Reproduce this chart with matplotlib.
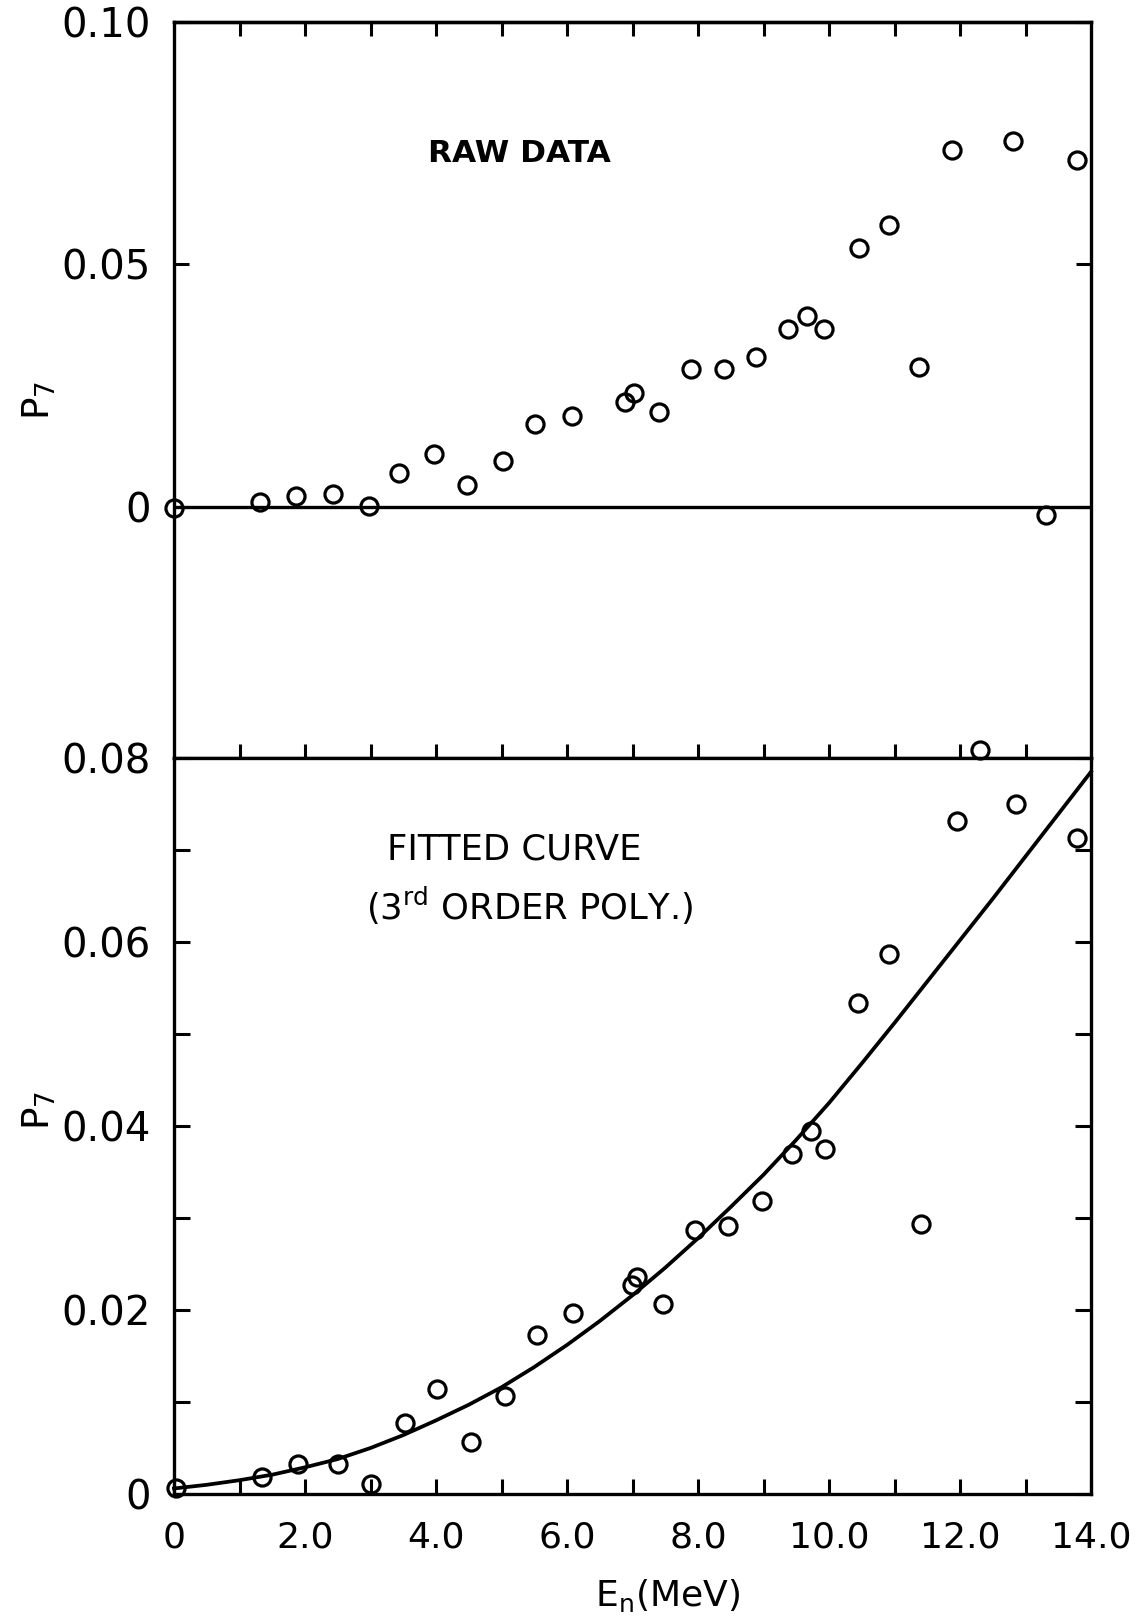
import matplotlib
matplotlib.use("Agg")
import matplotlib.pyplot as plt
from matplotlib.ticker import FixedLocator, FixedFormatter, NullFormatter

plt.rcParams['font.family'] = ['DejaVu Sans']
plt.rcParams['mathtext.default'] = 'regular'
plt.rcParams['mathtext.fontset'] = 'dejavusans'

# ---------------- data ----------------
# Upper panel: raw data
raw_energy = [0.0, 1.31, 1.86, 2.42, 2.97, 3.44, 3.97, 4.48, 5.02, 5.51, 6.08,
              6.89, 7.03, 7.40, 7.89, 8.40, 8.88, 9.38, 9.66, 9.93, 10.46,
              10.91, 11.37, 11.88, 12.81, 13.32, 13.79]
raw_p7 = [-0.0002, 0.0011, 0.0022, 0.0026, 0.0002, 0.0069, 0.0109, 0.0045, 0.0094,
          0.0170, 0.0188, 0.0217, 0.0235, 0.0195, 0.0284, 0.0284, 0.0310, 0.0367,
          0.0393, 0.0367, 0.0534, 0.0582, 0.0289, 0.0736, 0.0754, -0.0016, 0.0716]

# Lower panel: data points with fitted curve
fit_energy = [0.03, 1.34, 1.90, 2.50, 3.01, 3.53, 4.02, 4.53, 5.06, 5.54, 6.09,
              6.99, 7.07, 7.46, 7.95, 8.46, 8.97, 9.44, 9.72, 9.94, 10.45,
              10.91, 11.41, 11.95, 12.30, 12.85, 13.79]
fit_p7 = [0.0007, 0.0018, 0.0033, 0.0033, 0.0011, 0.0077, 0.0114, 0.0057, 0.0107,
          0.0173, 0.0197, 0.0227, 0.0236, 0.0206, 0.0287, 0.0291, 0.0318, 0.0370,
          0.0395, 0.0375, 0.0534, 0.0587, 0.0293, 0.0731, 0.0809, 0.0750, 0.0713]

# Fitted curve (3rd order polynomial), every 0.5 MeV
curve_energy = [0, 0.5, 1, 1.5, 2, 2.5, 3, 3.5, 4, 4.5, 5, 5.5, 6, 6.5, 7, 7.5,
                8, 8.5, 9, 9.5, 10, 10.5, 11, 11.5, 12, 12.5, 13, 13.5, 14]
curve_p7 = [0.0006, 0.0010, 0.0015, 0.0021, 0.0029, 0.0038, 0.0050, 0.0064,
            0.0080, 0.0097, 0.0116, 0.0138, 0.0162, 0.0188, 0.0216, 0.0246,
            0.0278, 0.0312, 0.0347, 0.0385, 0.0425, 0.0468, 0.0512, 0.0557,
            0.0602, 0.0647, 0.0693, 0.0739, 0.0785]

x_major = [0, 2, 4, 6, 8, 10, 12, 14]
x_major_labels = ['0', '2.0', '4.0', '6.0', '8.0', '10.0', '12.0', '14.0']
x_minor = [1, 3, 5, 7, 9, 11, 13]
x_all_inner = [1, 2, 3, 4, 5, 6, 7, 8, 9, 10, 11, 12, 13]

top_yticks = [0, 0.05, 0.10]
top_ylabels = ['0', '0.05', '0.10']
bot_yticks = [0, 0.02, 0.04, 0.06, 0.08]
bot_ylabels = ['0', '0.02', '0.04', '0.06', '0.08']
bot_yminor = [0.01, 0.03, 0.05, 0.07]

# ---------------- figure ----------------
W, H = 1148, 1618
fig = plt.figure(figsize=(W / 100, H / 100), dpi=100)
fig.patch.set_facecolor('white')

L = 174 / W
R = 1091 / W
AXW = 1091 - 174
ax1 = fig.add_axes([L, 1 - 758 / H, R - L, (758 - 22) / H])
ax2 = fig.add_axes([L, 1 - 1494 / H, R - L, (1494 - 758) / H])

INK = '#000000'
SPW = 2.4
marker_kw = dict(linestyle='none', marker='o', ms=12.3, mfc='none', mec=INK,
                 mew=2.3, clip_on=False, zorder=3)

# ---- upper panel ----
ax1.set_xlim(0, 14)
ax1.set_ylim(-0.0518, 0.10)
ax1.axhline(0, color=INK, lw=SPW, zorder=1)
ax1.plot(raw_energy, raw_p7, **marker_kw)
for s in ax1.spines.values():
    s.set_linewidth(SPW)
    s.set_color(INK)

ax1.xaxis.set_major_locator(FixedLocator(x_all_inner))
ax1.xaxis.set_major_formatter(NullFormatter())
ax1.tick_params(axis='x', which='both', bottom=True, top=False, direction='inout',
                length=20, width=2.2, color=INK, labelbottom=False)
sec = ax1.secondary_xaxis('top')
sec.xaxis.set_major_locator(FixedLocator(x_all_inner))
sec.xaxis.set_major_formatter(NullFormatter())
sec.tick_params(axis='x', direction='in', length=10, width=2.2, color=INK)
sec.spines['top'].set_linewidth(SPW)

ax1.yaxis.set_major_locator(FixedLocator(top_yticks))
ax1.yaxis.set_major_formatter(FixedFormatter(top_ylabels))
ax1.tick_params(axis='y', which='both', left=True, right=True, direction='in',
                length=11, width=2.2, color=INK, labelsize=29, pad=17)

ax1.text((519 - 174) / AXW, 1 - (153 - 22) / (758 - 22), 'RAW DATA',
         transform=ax1.transAxes, ha='center', va='center', fontsize=22.5,
         fontweight='bold', color=INK)

# ---- lower panel ----
ax2.set_xlim(0, 14)
ax2.set_ylim(0, 0.08)
ax2.plot(curve_energy, curve_p7, color=INK, lw=2.7, zorder=2, clip_on=False)
ax2.plot(fit_energy, fit_p7, **marker_kw)
for s in ax2.spines.values():
    s.set_linewidth(SPW)
    s.set_color(INK)

ax2.xaxis.set_major_locator(FixedLocator(x_major))
ax2.xaxis.set_major_formatter(FixedFormatter(x_major_labels))
ax2.xaxis.set_minor_locator(FixedLocator(x_minor))
ax2.tick_params(axis='x', which='both', bottom=True, top=False, direction='in',
                length=11, width=2.2, color=INK)
ax2.tick_params(axis='x', which='major', labelsize=26, pad=19)

ax2.yaxis.set_major_locator(FixedLocator(bot_yticks))
ax2.yaxis.set_major_formatter(FixedFormatter(bot_ylabels))
ax2.yaxis.set_minor_locator(FixedLocator(bot_yminor))
ax2.tick_params(axis='y', which='both', left=True, right=True, direction='in',
                length=11.5, width=2.2, color=INK)
ax2.tick_params(axis='y', which='major', labelsize=29, pad=17)

ax2.text((514 - 174) / AXW, 1 - (850 - 758) / (1494 - 758), 'FITTED CURVE',
         transform=ax2.transAxes, ha='center', va='center', fontsize=25.5, color=INK)
ax2.text((530 - 174) / AXW, 1 - (906 - 758) / (1494 - 758), '(3$^{rd}$ ORDER POLY.)',
         transform=ax2.transAxes, ha='center', va='center', fontsize=25.5, color=INK)

# ---- axis labels ----
fig.text(39 / W, 1 - 400 / H, 'P$_7$', rotation=90, ha='center', va='center',
         fontsize=27, color=INK)
fig.text(39 / W, 1 - 1110 / H, 'P$_7$', rotation=90, ha='center', va='center',
         fontsize=27, color=INK)
fig.text(668 / W, 1 - 1595 / H, 'E$_n$(MeV)', ha='center', va='center',
         fontsize=26, color=INK)

fig.savefig('out.png', dpi=100, facecolor='white')
